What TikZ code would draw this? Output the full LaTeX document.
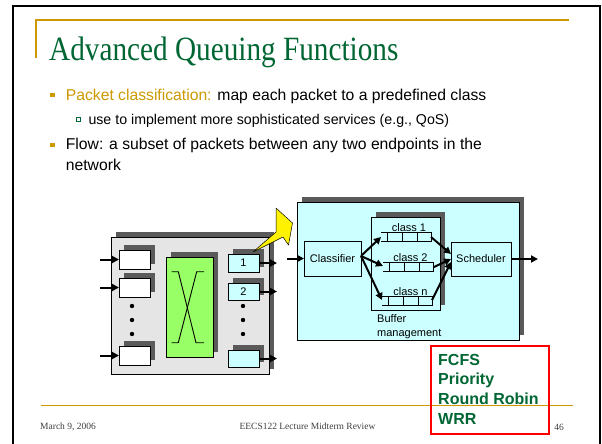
\documentclass[tikz,border=0pt]{standalone}
\usepackage{fontspec}
\setmainfont{Liberation Sans}
\newfontfamily\seriffont{Liberation Serif}
\usetikzlibrary{arrows.meta,shadows}
\definecolor{gold}{RGB}{204,153,0}
\definecolor{titlegreen}{RGB}{0,102,51}
\definecolor{shadowc}{RGB}{90,90,90}
\definecolor{routerfill}{RGB}{229,229,229}
\definecolor{cyanfill}{RGB}{204,255,255}
\definecolor{switchgreen}{RGB}{153,255,102}
\begin{document}
\begin{tikzpicture}[x=1pt,y=-1pt,
  sh/.style={drop shadow={fill=shadowc,opacity=1,shadow xshift=5pt,shadow yshift=5pt}},
  box/.style={draw=black,line width=1pt,inner sep=0pt,outer sep=0pt,anchor=north west,font=\fontsize{11}{13}\selectfont},
  ar/.style={line width=2pt,-{Triangle[length=7pt,width=7pt]}},
  lbl/.style={font=\fontsize{11}{13}\selectfont,inner sep=0pt,anchor=base},
  body/.style={font=\fontsize{15.7}{18}\selectfont,inner sep=0pt,anchor=base west},
  subbody/.style={font=\fontsize{14.2}{16}\selectfont,inner sep=0pt,anchor=base west},
  foot/.style={font=\seriffont\fontsize{9.5}{11}\selectfont,inner sep=0pt,text=black!75},
  red/.style={font=\bfseries\fontsize{16}{19}\selectfont,inner sep=0pt,anchor=base west,text=titlegreen},
]
\useasboundingbox (0,0) rectangle (602,444);
\fill[white] (0,0) rectangle (602,444);
% slide frame
\draw[line width=2.5pt] (13,444) -- (13,6) -- (600,6) -- (600,444);
\draw[gold,line width=1.2pt] (36,58) -- (36,20) -- (569,20);
\draw[gold,line width=1pt] (41,405) -- (573,405);
% title
\node[anchor=base west,inner sep=0pt,text=titlegreen] (title) at (49,61)
  {\seriffont\fontsize{34}{36}\selectfont\scalebox{0.86}[1]{Advanced Queuing Functions}};
% bullets
\fill[gold] (50,92.7) rectangle (54.6,97.3);
\node[body] (b1) at (65.7,100) {\textcolor{gold}{Packet classification:} map each packet to a predefined class};
\draw[titlegreen,line width=0.7pt] (76.2,117.8) rectangle (80,121.6);
\node[subbody] (b1a) at (88.3,124) {use to implement more sophisticated services (e.g., QoS)};
\fill[gold] (50,142.7) rectangle (54.6,147.3);
\node[body] (b2) at (65.7,149) {Flow: a subset of packets between any two endpoints in the};
\node[body] (b2b) at (65.7,170) {network};
% router
\node[box,sh,fill=routerfill,minimum width=158pt,minimum height=137pt] (router) at (111,237) {};
\node[box,sh,fill=white,minimum width=31pt,minimum height=19pt] (in1) at (119,250) {};
\node[box,sh,fill=white,minimum width=31pt,minimum height=19pt] (in2) at (119,278) {};
\node[box,sh,fill=white,minimum width=31pt,minimum height=19pt] (in3) at (119,346) {};
\coordinate (s1) at (100,259.5);
\coordinate (s2) at (100,287.5);
\coordinate (s3) at (100,355.5);
\draw[ar] (s1) -- (in1.west);
\draw[ar] (s2) -- (in2.west);
\draw[ar] (s3) -- (in3.west);
\foreach \yy in {306,320,334} {\fill (132,\yy) circle (2.2pt); \fill (243,\yy) circle (2.2pt);}
\node[box,sh,fill=switchgreen,minimum width=47pt,minimum height=100pt] (sw) at (166,257) {};
\draw[line width=0.9pt] (171.7,271.7) -- (178.3,271.7) -- (196,342.7) -- (204,342.7);
\draw[line width=0.9pt] (204,271.7) -- (196.7,271.7) -- (178.3,342.7) -- (171.7,342.7);
\node[box,sh,fill=cyanfill,minimum width=31pt,minimum height=18pt] (out1) at (228,254) {1};
\node[box,sh,fill=cyanfill,minimum width=31pt,minimum height=17pt] (out2) at (228,283) {2};
\node[box,sh,fill=cyanfill,minimum width=31pt,minimum height=17pt] (out3) at (228,350) {};
\coordinate (o1) at (277,263);
\coordinate (o2) at (277,291.5);
\coordinate (o3) at (277,358.5);
\draw[ar] (out1.east) -- (o1);
\draw[ar] (out2.east) -- (o2);
\draw[ar] (out3.east) -- (o3);
% yellow arrow
\draw[fill=yellow,line width=0.5pt,line join=round] (253,252) -- (276,232) -- (276,208) -- (292.5,223) -- (288.5,245) -- (283,237) -- cycle;
% processing block
\node[box,sh,fill=cyanfill,minimum width=222pt,minimum height=138pt] (proc) at (297,202) {};
\node[box,fill=cyanfill,minimum width=57pt,minimum height=35pt] (cls) at (304,241) {Classifier};
\coordinate (pin) at (287,258.5);
\draw[ar] (pin) -- (cls.west);
\node[box,sh,fill=cyanfill,minimum width=69pt,minimum height=93pt] (buf) at (371,217) {};
% queues
\draw[line width=0.9pt] (381,232) -- (431,232) -- (431,241) -- (381,241)
  (387,232) -- (387,241) (402,232) -- (402,241) (417,232) -- (417,241);
\draw[line width=0.9pt] (383,262) -- (433,262) -- (433,271) -- (383,271)
  (389,262) -- (389,271) (404,262) -- (404,271) (419,262) -- (419,271);
\draw[line width=0.9pt] (382,296) -- (432,296) -- (432,305) -- (382,305)
  (388,296) -- (388,305) (403,296) -- (403,305) (418,296) -- (418,305);
\node[lbl] (c1) at (409,231) {class 1};
\node[lbl] (c2) at (410.5,261.5) {class 2};
\node[lbl] (cn) at (410.5,295.5) {class n};
\coordinate (q1in) at (381,237);
\coordinate (q2in) at (383,266);
\coordinate (qnin) at (382,300);
\coordinate (q1out) at (431,237);
\coordinate (q2out) at (434,267);
\coordinate (qnout) at (432,300);
\coordinate (clsout) at (361,256);
\draw[ar] (clsout) -- (q1in);
\draw[ar] (clsout) -- (q2in);
\draw[ar] (clsout) -- (qnin);
\node[box,fill=cyanfill,minimum width=60pt,minimum height=34pt] (sch) at (451,242) {Scheduler};
\coordinate (si1) at (451,254);
\coordinate (si2) at (451,259);
\coordinate (si3) at (451,262);
\draw[ar] (q1out) -- (si1);
\draw[ar] (q2out) -- (si2);
\draw[ar] (qnout) -- (si3);
\coordinate (pout) at (538,259);
\draw[ar] (sch.east) -- (pout);
\node[lbl,anchor=base west] (bm1) at (377,322) {Buffer};
\node[lbl,anchor=base west] (bm2) at (377,336) {management};
% scheduling box
\node[draw=red,line width=1.6pt,anchor=north west,minimum width=118pt,minimum height=88pt,inner sep=0pt] (rbox) at (430,345) {};
\node[red] (r1) at (438,365) {FCFS};
\node[red] (r2) at (438,384) {Priority};
\node[red] (r3) at (438,404) {Round Robin};
\node[red] (r4) at (438,424) {WRR};
% footer
\node[foot,anchor=base west] (date) at (40,429) {March 9, 2006};
\node[foot,anchor=base] (course) at (307.5,429) {EECS122 Lecture Midterm Review};
\node[foot,anchor=base] (page) at (559,430) {46};
\end{tikzpicture}
\end{document}
